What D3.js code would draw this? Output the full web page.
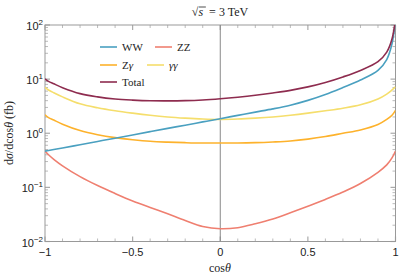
<!DOCTYPE html>
<html>
<head>
<meta charset="utf-8">
<script src="https://cdn.jsdelivr.net/npm/d3@7/dist/d3.min.js"></script>
<style>
  body { margin: 0; background: #fff; }
  svg { display: block; }
</style>
</head>
<body>
<svg id="chart"></svg>
<script>
// cos(theta) sample points
var cosTheta = [-1, -0.98, -0.95, -0.9, -0.8, -0.7, -0.6, -0.5, -0.4, -0.3, -0.2, -0.1, 0,
                0.1, 0.2, 0.3, 0.4, 0.5, 0.6, 0.7, 0.8, 0.9, 0.95, 0.98, 1];

// d sigma / d cos(theta) in fb
var ww    = [0.467, 0.48, 0.50, 0.535, 0.614, 0.706, 0.811, 0.931, 1.07, 1.23, 1.41, 1.62, 1.86,
             2.14, 2.46, 2.82, 3.3, 4.05, 5.2, 7.0, 9.6, 14.5, 23, 45, 120];
var zz    = [0.47, 0.40, 0.33, 0.25, 0.158, 0.108, 0.077, 0.056, 0.0425, 0.0325, 0.0245, 0.0190, 0.0172,
             0.0180, 0.0212, 0.026, 0.034, 0.045, 0.060, 0.082, 0.118, 0.19, 0.26, 0.35, 0.47];
var zgam  = [2.2, 1.95, 1.75, 1.47, 1.12, 0.94, 0.83, 0.76, 0.71, 0.685, 0.67, 0.66, 0.66,
             0.66, 0.67, 0.69, 0.72, 0.78, 0.87, 1.0, 1.15, 1.45, 1.8, 2.15, 2.65];
var gamgam = [7.0, 6.3, 5.6, 4.7, 3.5, 2.95, 2.6, 2.35, 2.15, 2.0, 1.9, 1.83, 1.8,
             1.83, 1.9, 2.0, 2.15, 2.35, 2.6, 2.9, 3.35, 4.3, 5.3, 6.3, 7.2];
var total = [10.1, 9.1, 8.2, 6.96, 5.4, 4.7, 4.3, 4.1, 3.98, 3.96, 4.0, 4.12, 4.34,
             4.64, 5.03, 5.55, 6.2, 7.2, 8.7, 11.0, 14.5, 21, 31.5, 55, 130];

var xTicks = [-1, -0.5, 0, 0.5, 1];
var xTickLabels = ["\u22121", "\u22120.5", "0", "0.5", "1"];
var yExps = [-2, -1, 0, 1, 2];

var series = [
  { name: "Total", values: total,  color: "#8e2c4f" },
  { name: "WW",    values: ww,     color: "#4aa0c0" },
  { name: "\u03b3\u03b3", values: gamgam, color: "#f5de6c" },
  { name: "Z\u03b3", values: zgam, color: "#fdb22c" },
  { name: "ZZ",    values: zz,     color: "#ef7f70" }
];

var width = 399, height = 278;
var pLeft = 45, pRight = 395.5, pTop = 25, pBottom = 241.5;

var svg = d3.select("#chart").attr("width", width).attr("height", height);

var x = d3.scaleLinear().domain([-1, 1]).range([pLeft, pRight]);
var y = d3.scaleLog().domain([0.01, 100]).range([pBottom, pTop]);

svg.append("clipPath").attr("id", "plotclip")
   .append("rect").attr("x", pLeft).attr("y", pTop)
   .attr("width", pRight - pLeft).attr("height", pBottom - pTop);

// ticks, inward, on all four sides
var tickColor = "#aaa";
var g = svg.append("g");
var minorX = d3.range(-10, 11).map(function(i) { return i / 10; });
minorX.forEach(function(v) {
  var major = Math.abs(v * 2 - Math.round(v * 2)) < 1e-9;
  var len = major ? 5 : 3;
  g.append("line").attr("x1", x(v)).attr("x2", x(v)).attr("y1", pBottom).attr("y2", pBottom - len)
   .attr("stroke", tickColor).attr("stroke-width", major ? 1.2 : 0.8);
  g.append("line").attr("x1", x(v)).attr("x2", x(v)).attr("y1", pTop).attr("y2", pTop + len)
   .attr("stroke", tickColor).attr("stroke-width", major ? 1.2 : 0.8);
});
yExps.forEach(function(e) {
  var base = Math.pow(10, e);
  var vals = [base];
  if (e < 2) { for (var k = 2; k <= 9; k++) vals.push(k * base); }
  vals.forEach(function(v, j) {
    var len = j === 0 ? 5 : 3;
    g.append("line").attr("x1", pLeft).attr("x2", pLeft + len).attr("y1", y(v)).attr("y2", y(v))
     .attr("stroke", tickColor).attr("stroke-width", j === 0 ? 1.2 : 0.8);
    g.append("line").attr("x1", pRight).attr("x2", pRight - len).attr("y1", y(v)).attr("y2", y(v))
     .attr("stroke", tickColor).attr("stroke-width", j === 0 ? 1.2 : 0.8);
  });
});

// frame
svg.append("rect").attr("x", pLeft).attr("y", pTop)
   .attr("width", pRight - pLeft).attr("height", pBottom - pTop)
   .attr("fill", "none").attr("stroke", "#999").attr("stroke-width", 1);

// axis at x = 0
svg.append("line").attr("x1", x(0)).attr("x2", x(0)).attr("y1", pTop).attr("y2", pBottom)
   .attr("stroke", "#888").attr("stroke-width", 1);

// tick labels
var tickFont = "Liberation Sans, Arial, sans-serif";
xTicks.forEach(function(v, i) {
  svg.append("text").attr("x", x(v)).attr("y", 256)
     .attr("text-anchor", "middle").attr("font-family", tickFont).attr("font-size", 11)
     .attr("fill", "#222").text(xTickLabels[i]);
});
yExps.forEach(function(e) {
  var t = svg.append("text").attr("x", pLeft - 2).attr("y", y(Math.pow(10, e)) + 5)
     .attr("text-anchor", "end").attr("font-family", tickFont).attr("font-size", 11).attr("fill", "#222");
  t.append("tspan").text("10");
  t.append("tspan").attr("dy", -5).attr("font-size", 8).text(e < 0 ? "\u2212" + (-e) : String(e));
});

// curves
var line = d3.line()
  .x(function(d) { return x(d[0]); })
  .y(function(d) { return y(d[1]); })
  .curve(d3.curveCatmullRom.alpha(0.5));

var plot = svg.append("g").attr("clip-path", "url(#plotclip)");
series.slice().reverse().forEach(function(s) {
  var pts = cosTheta.map(function(c, i) { return [c, s.values[i]]; });
  plot.append("path").attr("d", line(pts)).attr("fill", "none")
      .attr("stroke", s.color).attr("stroke-width", 1.6);
});

// legend
var serif = "Liberation Serif, Times New Roman, serif";
var legendItems = [
  { name: "WW", color: "#4aa0c0", lx: 100, ly: 47 },
  { name: "ZZ", color: "#ef7f70", lx: 155, ly: 47 },
  { name: "Z\u03b3", color: "#fdb22c", lx: 100, ly: 65 },
  { name: "\u03b3\u03b3", color: "#f5de6c", lx: 147, ly: 65 },
  { name: "Total", color: "#8e2c4f", lx: 100, ly: 82 }
];
legendItems.forEach(function(d) {
  svg.append("line").attr("x1", d.lx).attr("x2", d.lx + 17).attr("y1", d.ly).attr("y2", d.ly)
     .attr("stroke", d.color).attr("stroke-width", 1.6);
  var t = svg.append("text").attr("x", d.lx + 22).attr("y", d.ly + 4)
     .attr("font-family", serif).attr("font-size", 11).attr("fill", "#222");
  if (d.name === "Z\u03b3") {
    t.append("tspan").text("Z");
    t.append("tspan").attr("font-style", "italic").text("\u03b3");
  } else if (d.name === "\u03b3\u03b3") {
    t.append("tspan").attr("font-style", "italic").text("\u03b3\u03b3");
  } else {
    t.text(d.name);
  }
});

// title
var title = svg.append("text").attr("x", 220).attr("y", 16).attr("text-anchor", "middle")
   .attr("font-family", serif).attr("font-size", 12).attr("fill", "#222");
title.append("tspan").text("\u221a");
title.append("tspan").attr("font-style", "italic").text("s");
title.append("tspan").attr("xml:space", "preserve").text("  = 3 TeV");
var bb = title.node().getBBox();
svg.append("line").attr("x1", bb.x + 7).attr("x2", bb.x + 14).attr("y1", bb.y + 2).attr("y2", bb.y + 2)
   .attr("stroke", "#222").attr("stroke-width", 0.8);

// axis labels
var xl = svg.append("text").attr("x", 220).attr("y", 272).attr("text-anchor", "middle")
   .attr("font-family", serif).attr("font-size", 12).attr("fill", "#222");
xl.append("tspan").text("cos");
xl.append("tspan").attr("font-style", "italic").text("\u03b8");

var yl = svg.append("text").attr("transform", "translate(13,133) rotate(-90)")
   .attr("text-anchor", "middle").attr("font-family", serif).attr("font-size", 12).attr("fill", "#222");
yl.append("tspan").text("d");
yl.append("tspan").attr("font-style", "italic").text("\u03c3");
yl.append("tspan").text("/dcos");
yl.append("tspan").attr("font-style", "italic").text("\u03b8");
yl.append("tspan").text(" (fb)");
</script>
</body>
</html>
